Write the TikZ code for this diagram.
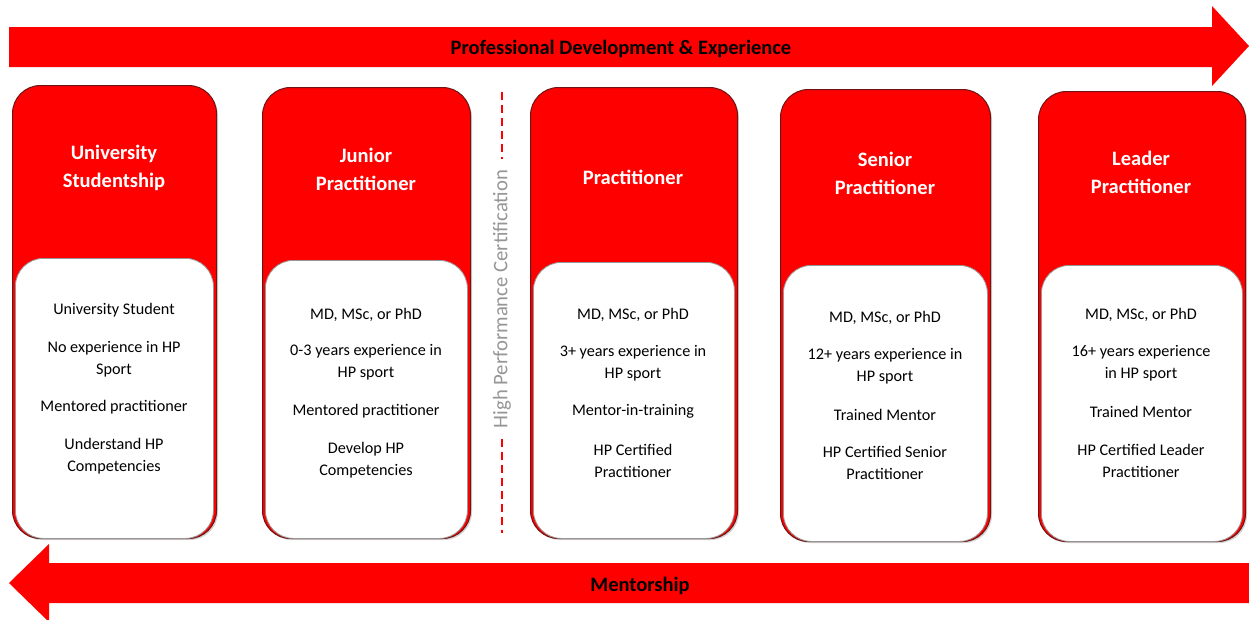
\documentclass[tikz,border=0pt]{standalone}
\usepackage{fontspec}
\setmainfont{Carlito}
\usetikzlibrary{shadows}
\definecolor{hpred}{RGB}{255,0,0}
\definecolor{edgered}{RGB}{110,20,20}
\definecolor{hpgray}{RGB}{150,150,150}
\begin{document}
\begin{tikzpicture}[x=1pt,y=-1pt,
  card/.style={fill=hpred, draw=edgered, line width=1pt, rounded corners=28pt,
    anchor=north west, inner sep=0pt, drop shadow={opacity=0.35, shadow xshift=1.5pt, shadow yshift=-1.5pt}},
  inner/.style={fill=white, draw=hpgray, line width=0.8pt, rounded corners=28pt,
    anchor=north west, inner sep=0pt},
  title/.style={text=white, font=\bfseries\fontsize{20.5}{28}\selectfont, align=center, yshift=-1.5pt},
  item/.style={font=\fontsize{16.2}{22}\selectfont, align=center, inner sep=0pt, yshift=-1.5pt},
  bigarrow/.style={fill=hpred, draw=none},
  arrowlabel/.style={font=\bfseries\fontsize{20.5}{24}\selectfont, text=black, yshift=-1.5pt},
  cert/.style={dashed, dash pattern=on 8pt off 5pt, draw=hpred, line width=1.6pt}
]
\clip (0,0) rectangle (1249,619);
\fill[white] (0,0) rectangle (1249,619);

% top arrow
\path[bigarrow] (9,27) -- (1212,27) -- (1212,6) -- (1249,46) -- (1212,86) -- (1212,67) -- (9,67) -- cycle;
\node[arrowlabel] (pde) at (621,47) {Professional Development \& Experience};

% bottom arrow
\path[bigarrow] (1249,563) -- (49,563) -- (49,544) -- (9,583) -- (49,622) -- (49,603) -- (1249,603) -- cycle;
\node[arrowlabel] (ment) at (640,584) {Mentorship};

% cards
\node[card, minimum width=204pt, minimum height=453pt] (c1) at (12,85) {};
\node[inner, minimum width=198pt, minimum height=280pt] (w1) at (15,258) {};
\node[card, minimum width=208pt, minimum height=451pt] (c2) at (262,87) {};
\node[inner, minimum width=202pt, minimum height=278pt] (w2) at (265,260) {};
\node[card, minimum width=207pt, minimum height=451pt] (c3) at (530,87) {};
\node[inner, minimum width=201pt, minimum height=276pt] (w3) at (533,262) {};
\node[card, minimum width=210pt, minimum height=452pt] (c4) at (780,89) {};
\node[inner, minimum width=204pt, minimum height=276pt] (w4) at (783,265) {};
\node[card, minimum width=207pt, minimum height=450pt] (c5) at (1038,91) {};
\node[inner, minimum width=201pt, minimum height=276pt] (w5) at (1041,265) {};

% titles
\node[title] (t1) at (114,166) {University\\Studentship};
\node[title] (t2) at (366,168) {Junior\\Practitioner};
\node[title] (t3) at (633,176) {Practitioner};
\node[title] (t4) at (885,172) {Senior\\Practitioner};
\node[title] (t5) at (1141,171) {Leader\\Practitioner};

% card 1 items
\node[item] (a1) at (114,309) {University Student};
\node[item] (a2) at (114,358) {No experience in HP\\Sport};
\node[item] (a3) at (114,406) {Mentored practitioner};
\node[item] (a4) at (114,455) {Understand HP\\Competencies};
% card 2 items
\node[item] (b1) at (366,313) {MD, MSc, or PhD};
\node[item] (b2) at (366,361) {0-3 years experience in\\HP sport};
\node[item] (b3) at (366,410) {Mentored practitioner};
\node[item] (b4) at (366,459) {Develop HP\\Competencies};
% card 3 items
\node[item] (p1) at (633,313) {MD, MSc, or PhD};
\node[item] (p2) at (633,362) {3+ years experience in\\HP sport};
\node[item] (p3) at (633,410) {Mentor-in-training};
\node[item] (p4) at (633,459) {HP Certified\\Practitioner};
% card 4 items
\node[item] (s1) at (885,316) {MD, MSc, or PhD};
\node[item] (s2) at (885,365) {12+ years experience in\\HP sport};
\node[item] (s3) at (885,413) {Trained Mentor};
\node[item] (s4) at (885,461) {HP Certified Senior\\Practitioner};
% card 5 items
\node[item] (l1) at (1141,313) {MD, MSc, or PhD};
\node[item] (l2) at (1141,362) {16+ years experience\\in HP sport};
\node[item] (l3) at (1141,410) {Trained Mentor};
\node[item] (l4) at (1141,459) {HP Certified Leader\\Practitioner};

% certification divider
\node[rotate=90, text=hpgray, font=\fontsize{20.7}{24}\selectfont, inner sep=11pt] (hpc) at (502,299) {High Performance Certification};
\coordinate (dtop) at (502,92);
\coordinate (dbot) at (502,533);
\draw[cert] (dtop) -- (hpc.east);
\draw[cert] (hpc.west) -- (dbot);
\end{tikzpicture}
\end{document}
